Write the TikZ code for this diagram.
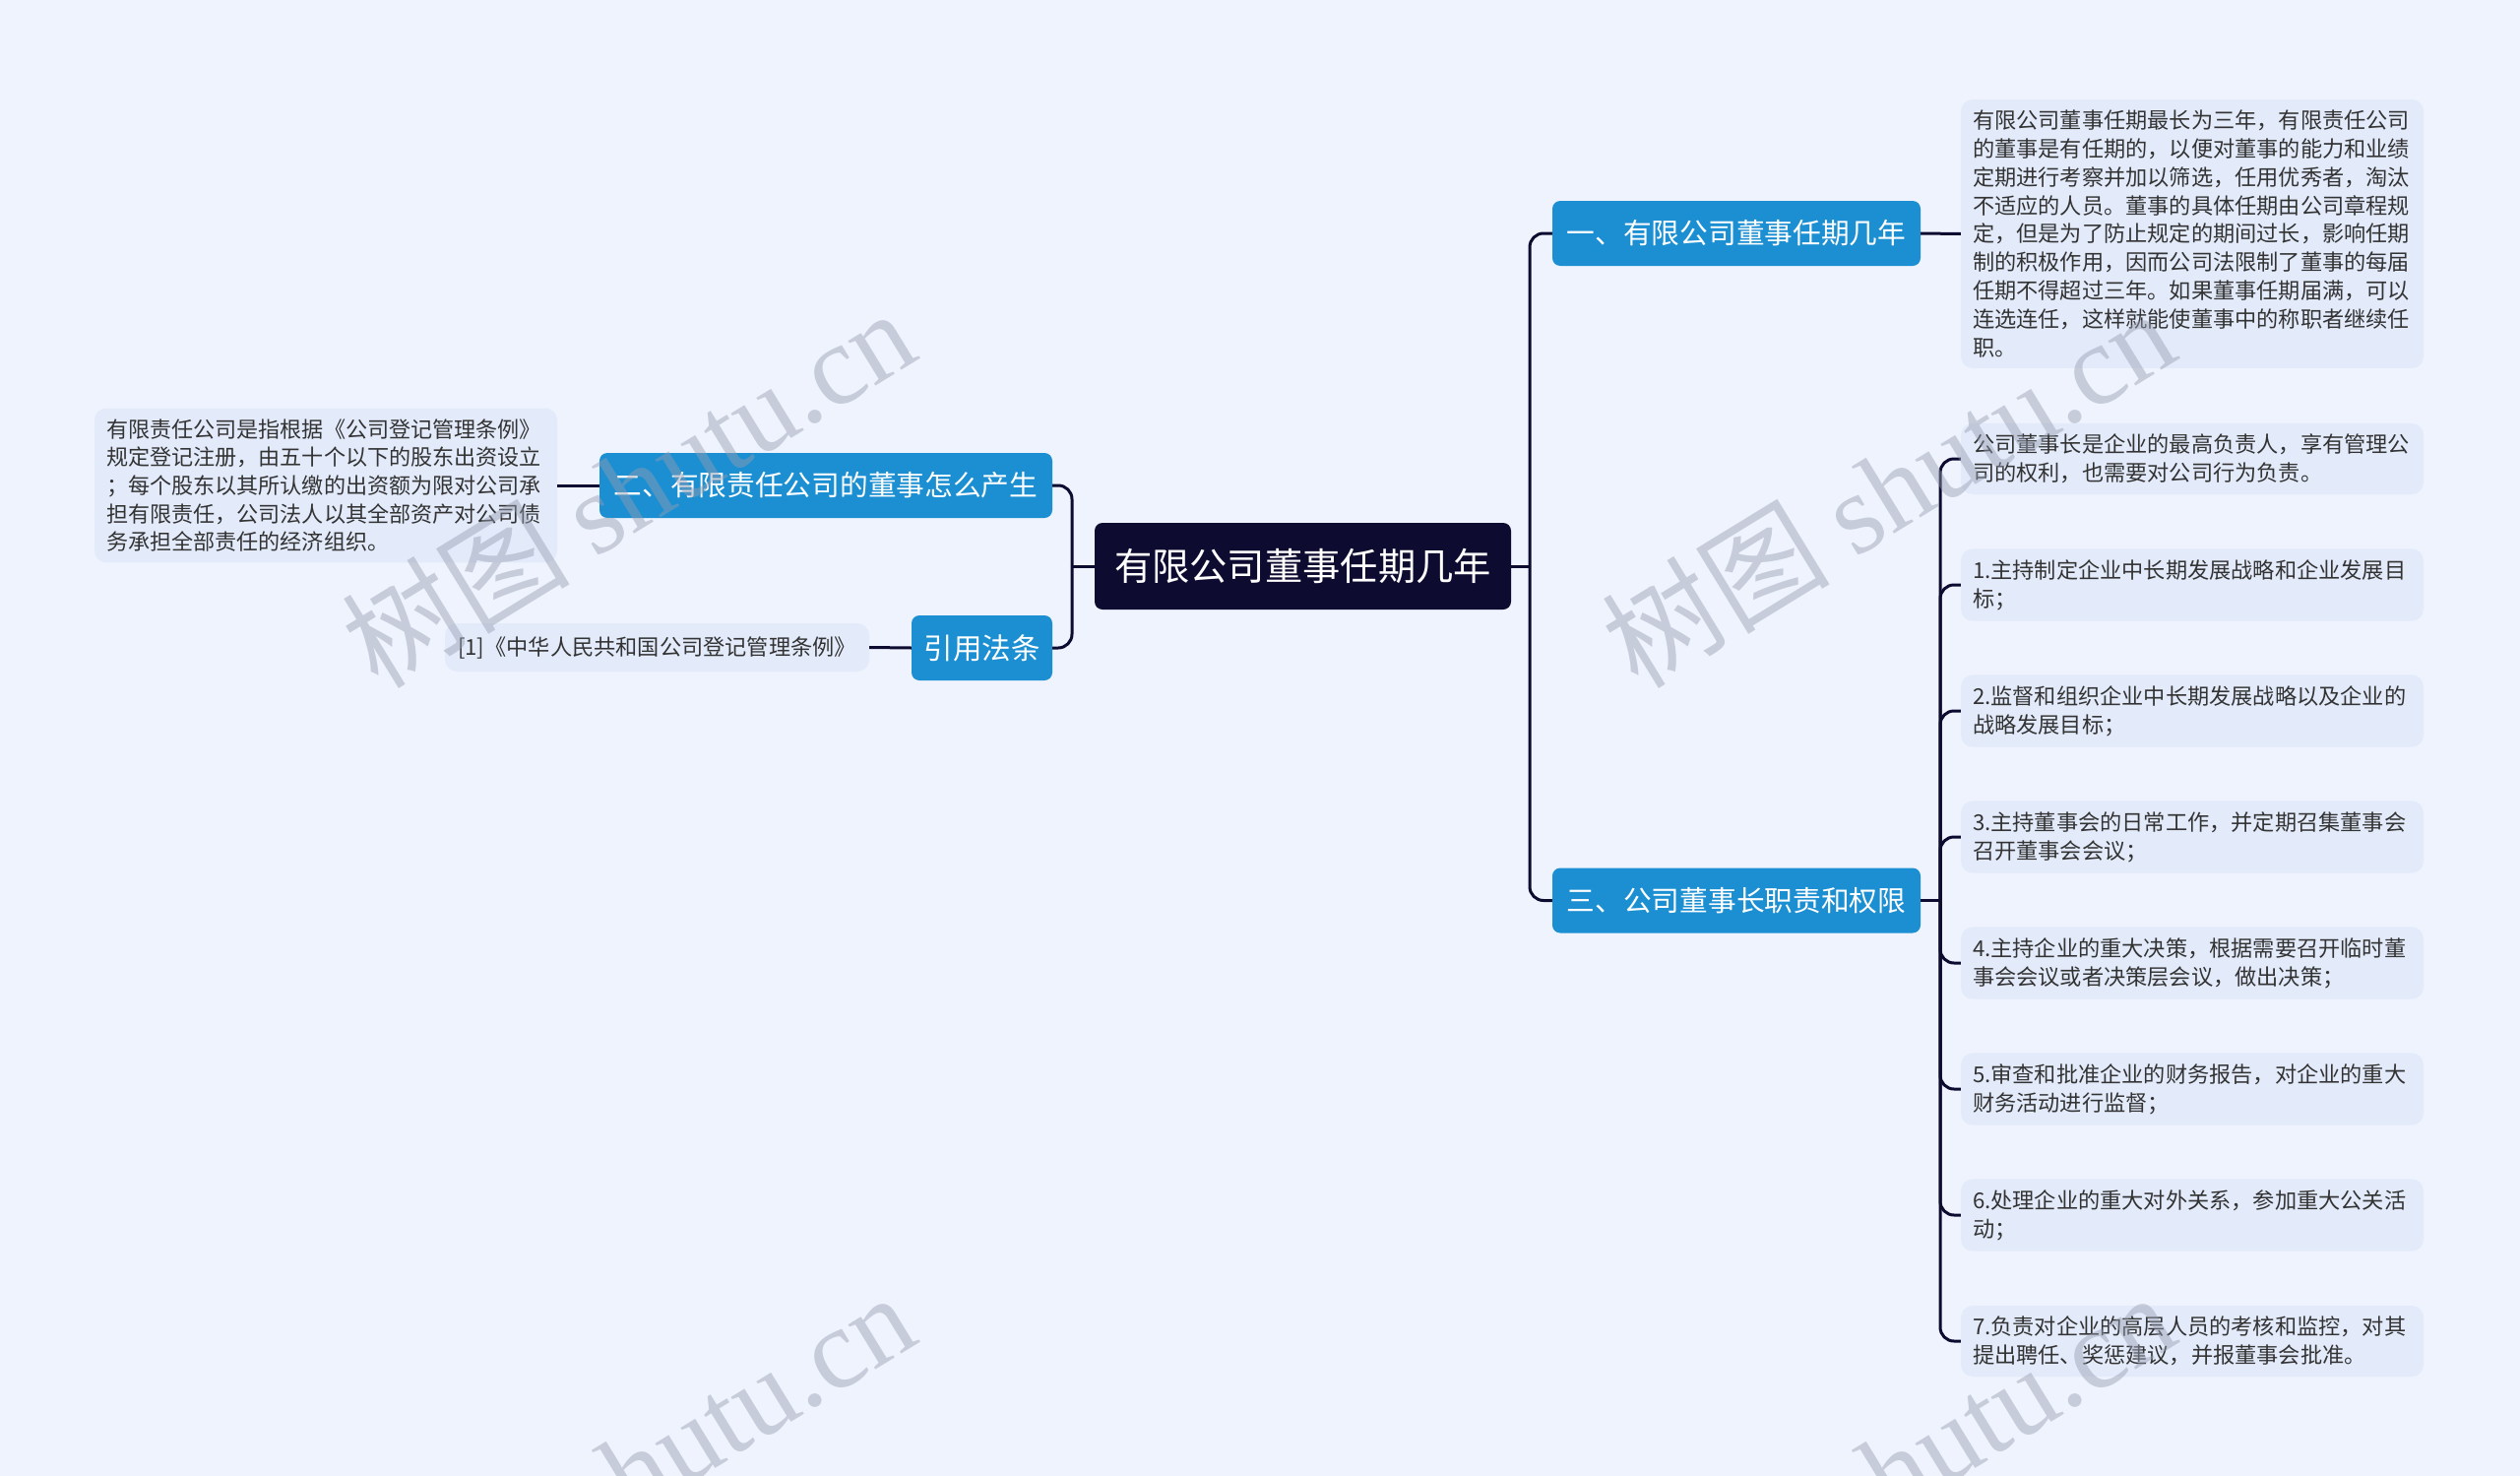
\documentclass[tikz,border=0pt]{standalone}
\usepackage{fontspec}
\setmainfont{Noto Sans CJK SC}
\newfontfamily\wmlatin{Liberation Serif}
\definecolor{bg}{RGB}{238,243,254}
\definecolor{navy}{RGB}{14,11,48}
\definecolor{nodeblue}{RGB}{27,143,210}
\definecolor{descfill}{RGB}{227,235,251}
\definecolor{desctext}{RGB}{51,51,51}
\definecolor{wm}{RGB}{150,157,175}
\begin{document}
\begin{tikzpicture}[x=1pt,y=-1pt,
 conn/.style={draw=navy, line width=3pt, rounded corners=14pt},
 rootbox/.style={fill=navy, text=white, rounded corners=8pt, minimum width=423pt, minimum height=88pt, font=\fontsize{38.3}{44}\selectfont, inner sep=0pt},
 topicbox/.style={fill=nodeblue, text=white, rounded corners=8pt, minimum height=66pt, inner sep=0pt, font=\fontsize{28.7}{34}\selectfont},
 descbox/.style={fill=descfill, text=desctext, rounded corners=12pt, align=left, text width=446pt, inner xsep=12pt, inner ysep=11pt, font=\fontsize{22.2}{28.8}\selectfont},
 refbox/.style={fill=descfill, text=desctext, rounded corners=12pt, minimum width=431pt, minimum height=49pt, inner sep=0pt, font=\fontsize{22.2}{26}\selectfont},
 wmtext/.style={text=wm, opacity=0.45, rotate=31.5, anchor=base west, inner sep=0pt, font=\fontsize{116}{116}\selectfont}]

\fill[bg] (0,0) rectangle (2560,1499);
\useasboundingbox (0,0) rectangle (2560,1499);

% main nodes
\node[rootbox] (root) at (1323.5,575) {有限公司董事任期几年};
\node[topicbox, minimum width=374pt] (t1) at (1764,237) {一、有限公司董事任期几年};
\node[topicbox, minimum width=374pt] (t3) at (1764,914.5) {三、公司董事长职责和权限};
\node[topicbox, minimum width=460pt] (t2) at (839,493) {二、有限责任公司的董事怎么产生};
\node[topicbox, minimum width=143pt, font=\fontsize{29.5}{34}\selectfont] (tr) at (997.5,658) {引用法条};

% description boxes
\node[descbox] (d1) at (2227,237.5) {有限公司董事任期最长为三年，有限责任公司\\的董事是有任期的，以便对董事的能力和业绩\\定期进行考察并加以筛选，任用优秀者，淘汰\\不适应的人员。董事的具体任期由公司章程规\\定，但是为了防止规定的期间过长，影响任期\\制的积极作用，因而公司法限制了董事的每届\\任期不得超过三年。如果董事任期届满，可以\\连选连任，这样就能使董事中的称职者继续任\\职。};
\node[descbox] (i0) at (2227,466) {公司董事长是企业的最高负责人，享有管理公\\司的权利，也需要对公司行为负责。};
\node[descbox] (i1) at (2227,594) {1.主持制定企业中长期发展战略和企业发展目\\标；};
\node[descbox] (i2) at (2227,722) {2.监督和组织企业中长期发展战略以及企业的\\战略发展目标；};
\node[descbox] (i3) at (2227,850) {3.主持董事会的日常工作，并定期召集董事会\\召开董事会会议；};
\node[descbox] (i4) at (2227,978) {4.主持企业的重大决策，根据需要召开临时董\\事会会议或者决策层会议，做出决策；};
\node[descbox] (i5) at (2227,1106) {5.审查和批准企业的财务报告，对企业的重大\\财务活动进行监督；};
\node[descbox] (i6) at (2227,1234) {6.处理企业的重大对外关系，参加重大公关活\\动；};
\node[descbox] (i7) at (2227,1362) {7.负责对企业的高层人员的考核和监控，对其\\提出聘任、奖惩建议，并报董事会批准。};
\node[descbox, font=\fontsize{22.1}{28.6}\selectfont] (dl) at (331,493) {有限责任公司是指根据《公司登记管理条例》\\规定登记注册，由五十个以下的股东出资设立\\；每个股东以其所认缴的出资额为限对公司承\\担有限责任，公司法人以其全部资产对公司债\\务承担全部责任的经济组织。};
\node[refbox] (dref) at (667.5,657.5) {[1]《中华人民共和国公司登记管理条例》};

% junctions
\coordinate (jr) at (1554,575);
\coordinate (jl) at (1089,575);
\coordinate (j3) at (1971,914.5);

% connectors
\draw[conn] (root.east) -- (jr);
\draw[conn] (jr) |- (t1.west);
\draw[conn] (jr) |- (t3.west);
\draw[conn] (root.west) -- (jl);
\draw[conn] (jl) |- (t2.east);
\draw[conn] (jl) |- (tr.east);
\draw[conn] (t1.east) -- (d1.west);
\draw[conn] (t2.west) -- (dl.east);
\draw[conn] (tr.west) -- (dref.east);
\draw[conn] (t3.east) -- (j3);
\foreach \k in {i0,i1,i2,i3,i4,i5,i6,i7} {\draw[conn] (j3) |- (\k.west);}

% watermarks
\begin{scope}
\clip (0,0) rectangle (2560,1499);
\node[wmtext] (w1) at (384,702) {树图 {\wmlatin shutu.cn}};
\node[wmtext] (w2) at (1664,702) {树图 {\wmlatin shutu.cn}};
\node[wmtext] (w3) at (384,1701) {树图 {\wmlatin shutu.cn}};
\node[wmtext] (w4) at (1664,1701) {树图 {\wmlatin shutu.cn}};
\end{scope}
\end{tikzpicture}
\end{document}
